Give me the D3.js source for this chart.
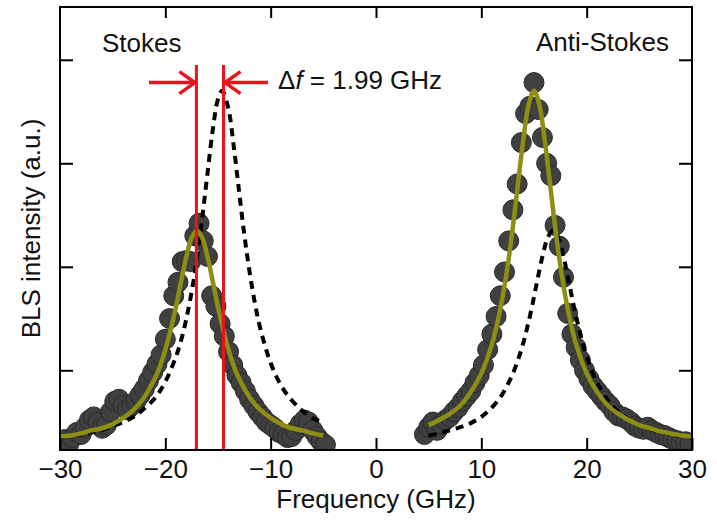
<!DOCTYPE html>
<html><head><meta charset="utf-8">
<script src="https://cdn.jsdelivr.net/npm/d3@7"></script>
<style>html,body{margin:0;padding:0;background:#fff;} svg{display:block;font-family:"Liberation Sans",Arial,sans-serif;}</style>
</head><body>
<script>
// ---- data ----
const stokesX = [-30.0,-29.6,-29.2,-28.8,-28.4,-28.0,-27.6,-27.2,-26.8,-26.4,-26.0,-25.6,-25.2,-24.8,-24.4,-24.0,-23.6,-23.2,-22.8,-22.4,-22.0,-21.6,-21.2,-20.8,-20.4,-20.0,-19.6,-19.2,-18.8,-18.4,-18.0,-17.6,-17.2,-16.8,-16.4,-16.0,-15.6,-15.2,-14.8,-14.4,-14.0,-13.6,-13.2,-12.8,-12.4,-12.0,-11.6,-11.2,-10.8,-10.4,-10.0,-9.6,-9.2,-8.8,-8.4,-8.0,-7.6,-7.2,-6.8,-6.4,-6.0,-5.6,-5.2,-4.8];
const stokesY = [0.30,0.33,0.28,0.35,0.40,0.38,0.45,0.52,0.55,0.50,0.44,0.47,0.60,0.70,0.72,0.66,0.62,0.66,0.70,0.76,0.82,0.90,0.98,1.06,1.15,1.30,1.50,1.72,1.85,2.05,2.06,2.05,2.30,2.42,2.25,2.10,1.72,1.62,1.45,1.33,1.18,1.05,0.95,0.88,0.80,0.72,0.66,0.60,0.55,0.50,0.47,0.44,0.40,0.38,0.35,0.36,0.42,0.48,0.52,0.50,0.42,0.36,0.31,0.28];
const antiX = [4.6,5.0,5.4,5.8,6.2,6.6,7.0,7.4,7.8,8.2,8.6,9.0,9.4,9.8,10.2,10.6,11.0,11.4,11.8,12.2,12.6,13.0,13.4,13.8,14.2,14.6,15.0,15.4,15.8,16.2,16.6,17.0,17.4,17.8,18.2,18.6,19.0,19.4,19.8,20.2,20.6,21.0,21.4,21.8,22.2,22.6,23.0,23.4,23.8,24.2,24.6,25.0,25.4,25.8,26.2,26.6,27.0,27.4,27.8,28.2,28.6,29.0,29.4,29.8];
const antiY = [0.38,0.45,0.50,0.42,0.48,0.52,0.55,0.60,0.64,0.70,0.75,0.80,0.88,0.95,1.05,1.20,1.35,1.52,1.72,1.95,2.25,2.55,2.80,3.20,3.48,3.55,3.78,3.52,3.25,3.00,2.88,2.40,2.20,1.90,1.55,1.35,1.22,1.10,1.00,0.92,0.85,0.80,0.75,0.70,0.66,0.60,0.56,0.55,0.53,0.50,0.46,0.44,0.43,0.45,0.42,0.40,0.38,0.37,0.35,0.33,0.32,0.30,0.31,0.29];

// Lorentzian fits (olive)
const fitStokesX = [-30,-29,-28,-27,-26,-25,-24,-23,-22,-21,-20.5,-20,-19.5,-19,-18.5,-18,-17.5,-17,-16.5,-16,-15.5,-15,-14.5,-14,-13.5,-13,-12,-11,-10,-9,-8,-7,-6,-5];
const fitStokesY = [0.36,0.37,0.39,0.42,0.44,0.48,0.54,0.62,0.74,0.92,1.04,1.20,1.39,1.61,1.86,2.10,2.28,2.35,2.28,2.10,1.86,1.61,1.39,1.20,1.04,0.92,0.74,0.62,0.54,0.48,0.44,0.42,0.39,0.37];
const fitAntiX = [5,6,7,8,9,10,11,11.5,12,12.5,13,13.5,14,14.5,15,15.5,16,16.5,17,17.5,18,18.5,19,20,21,22,23,24,25,26,27,28,29,30];
const fitAntiY = [0.47,0.52,0.58,0.66,0.79,0.97,1.25,1.45,1.70,2.01,2.39,2.82,3.24,3.57,3.70,3.57,3.24,2.82,2.39,2.01,1.70,1.45,1.25,0.97,0.79,0.66,0.58,0.52,0.47,0.44,0.41,0.39,0.37,0.36];

// dashed curves (black)
const dashStokesX = [-30,-29,-28,-27,-26,-25,-24,-23,-22,-21,-20,-19,-18.5,-18,-17.5,-17,-16.5,-16,-15.5,-15,-14.6,-14,-13.5,-13,-12.5,-12,-11.5,-11,-10,-9,-8,-7,-6,-5];
const dashStokesY = [0.35,0.37,0.38,0.40,0.42,0.46,0.50,0.55,0.63,0.73,0.89,1.13,1.29,1.50,1.76,2.08,2.47,2.90,3.32,3.62,3.70,3.52,3.16,2.73,2.31,1.95,1.65,1.41,1.07,0.85,0.71,0.61,0.54,0.49];
const dashAntiX = [5,6,7,8,9,10,11,12,13,13.8,14.3,14.8,15.3,15.8,16.3,16.8,17.3,17.8,18.3,18.8,19.3,19.8,20.8,21.8,22.8,23.8,24.8,25.8,26.8,27.8,28.8,30];
const dashAntiY = [0.37,0.39,0.42,0.45,0.49,0.55,0.64,0.77,0.97,1.20,1.39,1.61,1.86,2.10,2.28,2.35,2.28,2.10,1.86,1.61,1.39,1.20,0.92,0.74,0.62,0.54,0.48,0.44,0.41,0.39,0.37,0.35];

// annotation positions (GHz / a.u.)
const redLinesX = [-17.05, -14.48];
const redLineTop = 3.95;
const arrowY = 3.78;
const arrowLeft = [-21.55, -17.05];
const arrowRight = [-10.25, -14.48];

const xTicks = [-30,-20,-10,0,10,20,30];
const yTicks = [1,2,3,4];

// ---- layout ----
const W = 717, H = 524;
const m = {left:60, right:25, top:7, bottom:74};
const x = d3.scaleLinear().domain([-30,30]).range([m.left, W-m.right]);
const y = d3.scaleLinear().domain([0.23,4.51]).range([H-m.bottom, m.top]);

const svg = d3.select("body").append("svg").attr("width",W).attr("height",H);
svg.append("defs").append("clipPath").attr("id","clip")
  .append("rect").attr("x",m.left).attr("y",m.top).attr("width",W-m.left-m.right).attr("height",H-m.top-m.bottom);

const plot = svg.append("g").attr("clip-path","url(#clip)");

// data circles
const sData = stokesX.map((v,i)=>[v, stokesY[i]]);
const aData = antiX.map((v,i)=>[v, antiY[i]]);
plot.selectAll("circle.d").data(sData.concat(aData)).enter().append("circle")
  .attr("cx",d=>x(d[0])).attr("cy",d=>y(d[1])).attr("r",10)
  .attr("fill","#404040").attr("stroke","#2a2a2a").attr("stroke-width",1);

const line = d3.line().x(d=>x(d[0])).y(d=>y(d[1])).curve(d3.curveCatmullRom);

// dashed
[[dashStokesX,dashStokesY],[dashAntiX,dashAntiY]].forEach(([xs,ys])=>{
  plot.append("path").datum(xs.map((v,i)=>[v,ys[i]])).attr("d",line)
    .attr("fill","none").attr("stroke","#000").attr("stroke-width",4).attr("stroke-dasharray","8,6");
});
// fits
[[fitStokesX,fitStokesY],[fitAntiX,fitAntiY]].forEach(([xs,ys])=>{
  plot.append("path").datum(xs.map((v,i)=>[v,ys[i]])).attr("d",line)
    .attr("fill","none").attr("stroke","#8e8e12").attr("stroke-width",4.5);
});

// red lines & arrows
const red = "#e8141a";
redLinesX.forEach(v=>{
  svg.append("line").attr("x1",x(v)).attr("x2",x(v)).attr("y1",y(redLineTop)).attr("y2",y(0.23))
    .attr("stroke",red).attr("stroke-width",3);
});
function arrow(from,to){
  const x0=x(from), x1=x(to), yy=y(arrowY);
  const dir = Math.sign(x1-x0);
  svg.append("line").attr("x1",x0).attr("x2",x1-dir*2).attr("y1",yy).attr("y2",yy).attr("stroke",red).attr("stroke-width",3.5);
  svg.append("path").attr("d",`M${x1-dir*17},${yy-11}L${x1-dir*1.5},${yy}L${x1-dir*17},${yy+11}`)
    .attr("fill","none").attr("stroke",red).attr("stroke-width",3.5);
}
arrow(arrowLeft[0],arrowLeft[1]);
arrow(arrowRight[0],arrowRight[1]);

// frame
svg.append("rect").attr("x",m.left).attr("y",m.top).attr("width",W-m.left-m.right).attr("height",H-m.top-m.bottom)
  .attr("fill","none").attr("stroke","#000").attr("stroke-width",2);

// axes
const fs = 26;
const xb = d3.axisBottom(x).tickValues(xTicks).tickSizeInner(-12).tickSizeOuter(0)
  .tickFormat(d=>d<0?"\u2212"+Math.abs(d):d);
const gx = svg.append("g").attr("transform",`translate(0,${H-m.bottom})`).call(xb);
gx.select(".domain").remove();
gx.selectAll("text").attr("y",10).attr("dy","0.71em").attr("font-size",fs).attr("font-family","Liberation Sans, Arial, sans-serif").attr("fill","#111");
gx.selectAll("line").attr("stroke","#000").attr("stroke-width",2);

const xt = d3.axisTop(x).tickValues(xTicks.slice(1,-1)).tickSizeInner(-11).tickSizeOuter(0).tickFormat("");
const gxt = svg.append("g").attr("transform",`translate(0,${m.top})`).call(xt);
gxt.select(".domain").remove();
gxt.selectAll("line").attr("stroke","#000").attr("stroke-width",2);

const yl = d3.axisLeft(y).tickValues(yTicks).tickSizeInner(-13).tickSizeOuter(0).tickFormat("");
const gyl = svg.append("g").attr("transform",`translate(${m.left},0)`).call(yl);
gyl.select(".domain").remove();
gyl.selectAll("line").attr("stroke","#000").attr("stroke-width",2);
const yr = d3.axisRight(y).tickValues(yTicks).tickSizeInner(-13).tickSizeOuter(0).tickFormat("");
const gyr = svg.append("g").attr("transform",`translate(${W-m.right},0)`).call(yr);
gyr.select(".domain").remove();
gyr.selectAll("line").attr("stroke","#000").attr("stroke-width",2);

// labels
svg.append("text").attr("x",(m.left+W-m.right)/2).attr("y",508).attr("text-anchor","middle")
  .attr("font-size",fs).attr("fill","#111").text("Frequency (GHz)");
svg.append("text").attr("transform",`translate(40,${(m.top+H-m.bottom)/2}) rotate(-90)`).attr("text-anchor","middle")
  .attr("font-size",fs).attr("fill","#111").text("BLS intensity (a.u.)");
svg.append("text").attr("x",102).attr("y",52).attr("font-size",fs).attr("fill","#111").text("Stokes");
svg.append("text").attr("x",536).attr("y",51).attr("font-size",fs).attr("fill","#111").text("Anti-Stokes");
const t = svg.append("text").attr("x",278).attr("y",89).attr("font-size",fs).attr("fill","#111");
t.append("tspan").text("\u0394");
t.append("tspan").attr("font-style","italic").text("f");
t.append("tspan").text(" = 1.99 GHz");
</script>
</body></html>
